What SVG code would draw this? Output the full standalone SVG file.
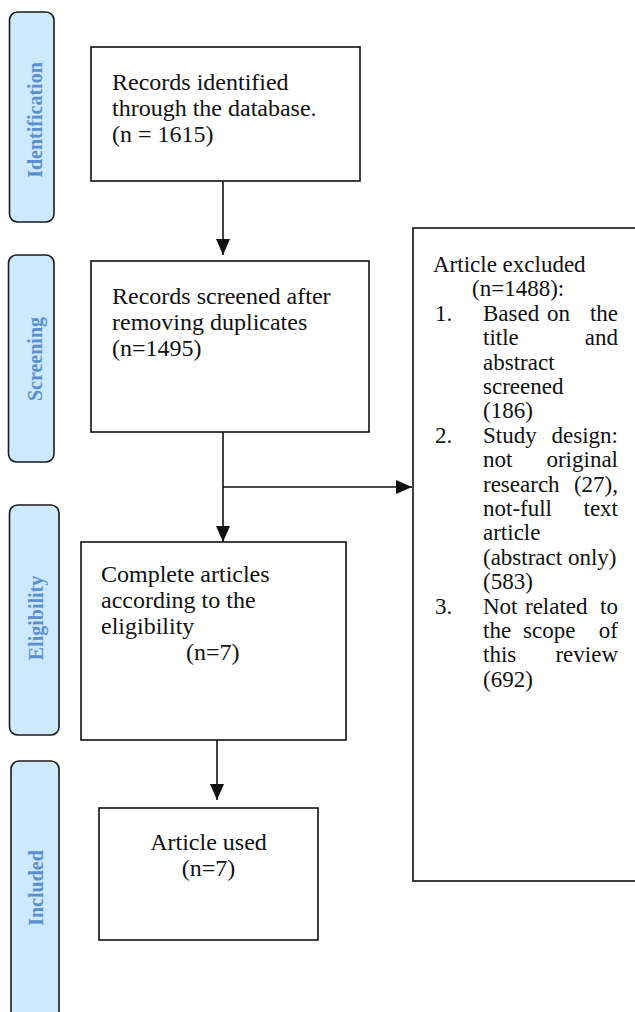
<svg xmlns="http://www.w3.org/2000/svg" width="635" height="1012" viewBox="0 0 635 1012">
<style>
.bg{fill:#ffffff}
.side{fill:#cce9fd;stroke:#1a1a1a;stroke-width:1.6}
.sidet{font-family:"Liberation Serif","Times New Roman",serif;font-weight:bold;font-size:20px;fill:#5b8fcf;text-anchor:middle}
.box{fill:#ffffff;stroke:#111111;stroke-width:1.6}
.t{font-family:"Liberation Serif","Times New Roman",serif;font-size:24px;fill:#111111}
.r{font-family:"Liberation Serif","Times New Roman",serif;font-size:23px;fill:#111111}
.e{text-anchor:end}
.m{text-anchor:middle}
.con{stroke:#111111;stroke-width:1.6;fill:none}
</style>
<defs>
<marker id="ah" markerUnits="userSpaceOnUse" markerWidth="16" markerHeight="14" refX="16" refY="7" orient="auto">
<path d="M0,0 L16,7 L0,14 z" fill="#111111"/>
</marker>
</defs>
<rect class="bg" x="0" y="0" width="635" height="1012"/>

<g id="stage-identification">
<rect class="side" x="9.5" y="12" width="44.5" height="210" rx="8"/>
<text class="sidet" transform="translate(42,120) rotate(-90)">Identification</text>
</g>
<g id="stage-screening">
<rect class="side" x="8.5" y="255" width="45.5" height="207" rx="8"/>
<text class="sidet" transform="translate(42,359) rotate(-90)">Screening</text>
</g>
<g id="stage-eligibility">
<rect class="side" x="9.5" y="505" width="49.5" height="230" rx="8"/>
<text class="sidet" transform="translate(43,618) rotate(-90)">Eligibility</text>
</g>
<g id="stage-included">
<rect class="side" x="11" y="761" width="48" height="270" rx="8"/>
<text class="sidet" transform="translate(43,888) rotate(-90)">Included</text>
</g>

<g id="connectors">
<line class="con" x1="223" y1="181" x2="223" y2="255" marker-end="url(#ah)"/>
<line class="con" x1="223" y1="432" x2="223" y2="542" marker-end="url(#ah)"/>
<line class="con" x1="223" y1="487" x2="412" y2="487" marker-end="url(#ah)"/>
<line class="con" x1="217" y1="740" x2="217" y2="800" marker-end="url(#ah)"/>
</g>

<g id="node-identified">
<rect class="box" x="91" y="47" width="269" height="134"/>
<text class="t" x="112" y="90">Records identified</text>
<text class="t" x="112" y="116">through the database.</text>
<text class="t" x="112" y="142">(n = 1615)</text>
</g>
<g id="node-screened">
<rect class="box" x="91" y="261" width="278" height="171"/>
<text class="t" x="112" y="304">Records screened after</text>
<text class="t" x="112" y="330">removing duplicates</text>
<text class="t" x="112" y="356">(n=1495)</text>
</g>
<g id="node-eligible">
<rect class="box" x="81" y="542" width="265" height="198"/>
<text class="t" x="101" y="582">Complete articles</text>
<text class="t" x="101" y="608">according to the</text>
<text class="t" x="101" y="634">eligibility</text>
<text class="t" x="186" y="660">(n=7)</text>
</g>
<g id="node-used">
<rect class="box" x="99" y="808" width="219" height="132"/>
<text class="t m" x="208.5" y="850">Article used</text>
<text class="t m" x="208.5" y="876">(n=7)</text>
</g>
<g id="node-excluded">
<rect class="box" x="413" y="228" width="230" height="653"/>
<text class="r" x="433" y="272">Article excluded</text>
<text class="r" x="472" y="296.4">(n=1488):</text>
<text class="r" x="435" y="320.8">1.</text>
<text class="r" x="483" y="320.8">Based</text>
<text class="r" x="547" y="320.8">on</text>
<text class="r e" x="618" y="320.8">the</text>
<text class="r" x="483" y="345.2">title</text>
<text class="r e" x="618" y="345.2">and</text>
<text class="r" x="483" y="369.6">abstract</text>
<text class="r" x="483" y="394">screened</text>
<text class="r" x="483" y="418.4">(186)</text>
<text class="r" x="435" y="442.8">2.</text>
<text class="r" x="483" y="442.8">Study</text>
<text class="r e" x="618" y="442.8">design:</text>
<text class="r" x="483" y="467.2">not</text>
<text class="r e" x="618" y="467.2">original</text>
<text class="r" x="483" y="491.6">research</text>
<text class="r e" x="618" y="491.6">(27),</text>
<text class="r" x="483" y="516">not-full</text>
<text class="r e" x="618" y="516">text</text>
<text class="r" x="483" y="540.4">article</text>
<text class="r" x="483" y="564.8">(abstract only)</text>
<text class="r" x="483" y="589.2">(583)</text>
<text class="r" x="435" y="613.6">3.</text>
<text class="r" x="483" y="613.6">Not</text>
<text class="r" x="525" y="613.6">related</text>
<text class="r e" x="618" y="613.6">to</text>
<text class="r" x="483" y="638">the</text>
<text class="r" x="523" y="638">scope</text>
<text class="r e" x="618" y="638">of</text>
<text class="r" x="483" y="662.4">this</text>
<text class="r e" x="618" y="662.4">review</text>
<text class="r" x="483" y="686.8">(692)</text>
</g>
</svg>
